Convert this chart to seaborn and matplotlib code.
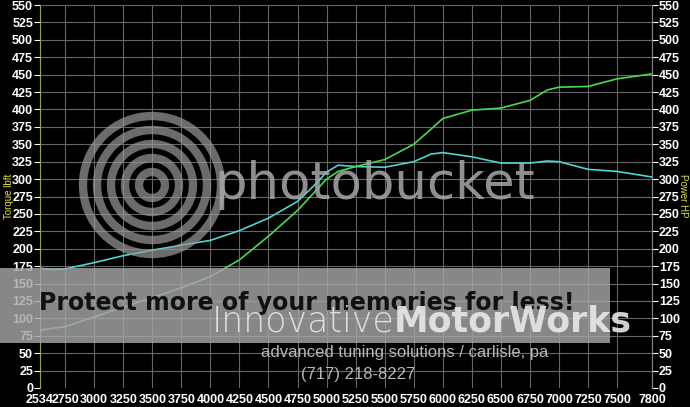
import pandas as pd
import seaborn as sns
import matplotlib.pyplot as plt
from matplotlib.patches import Circle, Rectangle

rpm = [2534, 2650, 2750, 3000, 3250, 3500, 3750, 4000, 4250, 4500, 4750, 4900,
       5000, 5100, 5250, 5500, 5750, 5900, 6000, 6250, 6500, 6750, 6900, 7000,
       7250, 7500, 7800]
torque = [172, 170, 171, 180, 190, 198, 205, 212, 226, 244, 268, 292,
          310, 320, 318, 317, 325, 336, 338, 332, 323, 323, 326, 325,
          314, 311, 303]
power = [83, 86, 88, 102, 116, 130, 144, 160, 184, 218, 255, 282,
         300, 311, 318, 328, 350, 372, 387, 399, 402, 413, 428, 432,
         433, 444, 451]

xticks = [2534] + list(range(2750, 7750, 250)) + [7800]
yticks = list(range(0, 551, 25))

df = pd.DataFrame({'RPM': rpm, 'Torque': torque, 'Power': power})

sns.set_style("dark")
plt.rcParams['font.family'] = ['Liberation Sans', 'DejaVu Sans']

fig = plt.figure(figsize=(6.9, 4.07), dpi=100, facecolor='black')
ax = fig.add_axes([40/690, 19/407, 612/690, 383/407])
ax.set_facecolor('black')

# background watermark: photobucket logo
for r in [13, 27, 41, 55, 69]:
    fig.add_artist(Circle((152, 222), r, transform=None, fill=False,
                          edgecolor='#9a9a9a', lw=6, alpha=0.7, zorder=0.5))
fig.text(375/690, 1 - 185/407, 'photobucket', color='#a8a8a8', alpha=0.85,
         fontsize=37, ha='center', va='center', zorder=0.6, family='DejaVu Sans')

ax.set_xlim(2534, 7800)
ax.set_ylim(0, 550)
ax.set_xticks(xticks)
ax.set_yticks(yticks)
ax.grid(True, color='#666666', lw=0.8)
ax.set_axisbelow(True)

sns.lineplot(data=df, x='RPM', y='Torque', ax=ax, color='#4fd4d4', lw=1.2)
sns.lineplot(data=df, x='RPM', y='Power', ax=ax, color='#4cd84c', lw=1.2)

ax2 = ax.twinx()
ax2.set_ylim(0, 550)
ax2.set_yticks(yticks)

for a in (ax, ax2):
    a.tick_params(colors='white', labelsize=9, length=4, width=0.8, pad=1)
    for s in a.spines.values():
        s.set_visible(False)
ax.spines['left'].set_visible(True)
ax.spines['left'].set_color('#a09a60')
ax2.spines['right'].set_visible(True)
ax2.spines['right'].set_color('#888888')
ax.tick_params(axis='x', length=0, pad=4)
ax.set_xlabel('')
ax.set_ylabel('')
for lbl in ax.get_yticklabels() + ax2.get_yticklabels() + ax.get_xticklabels():
    lbl.set_fontweight('bold')

fig.text(9/690, 1 - 196/407, 'Torque lbft', color='#e0e040', fontsize=7,
         rotation=90, ha='center', va='center')
fig.text(683/690, 1 - 196/407, 'Power HP', color='#e0e040', fontsize=7,
         rotation=270, ha='center', va='center')

# overlay banner and shop watermark
fig.add_artist(Rectangle((0, 407 - 343), 610, 75, transform=None,
                         facecolor='#a6a6a6', alpha=0.82, edgecolor='none', zorder=5))
fig.text(307/690, 1 - 303/407, 'Protect more of your memories for less!', color='#111111',
         fontsize=17, fontweight='bold', ha='center', va='center', zorder=6,
         family='DejaVu Sans')
fig.text(394/690, 1 - 322/407, 'Innovative', color='#e8e8e8', alpha=0.9,
         fontsize=25, ha='right', va='center', zorder=6, fontweight='light',
         family='DejaVu Sans')
fig.text(394/690, 1 - 322/407, 'MotorWorks', color='#e8e8e8', alpha=0.9,
         fontsize=25, ha='left', va='center', zorder=6, fontweight='bold',
         family='DejaVu Sans')
fig.text(405/690, 1 - 352/407, 'advanced tuning solutions / carlisle, pa', color='#b8b8b8',
         fontsize=12, ha='center', va='center', zorder=6)
fig.text(358/690, 1 - 374/407, '(717) 218-8227', color='#b8b8b8',
         fontsize=12, ha='center', va='center', zorder=6)

fig.savefig('out.png', dpi=100, facecolor='black')
